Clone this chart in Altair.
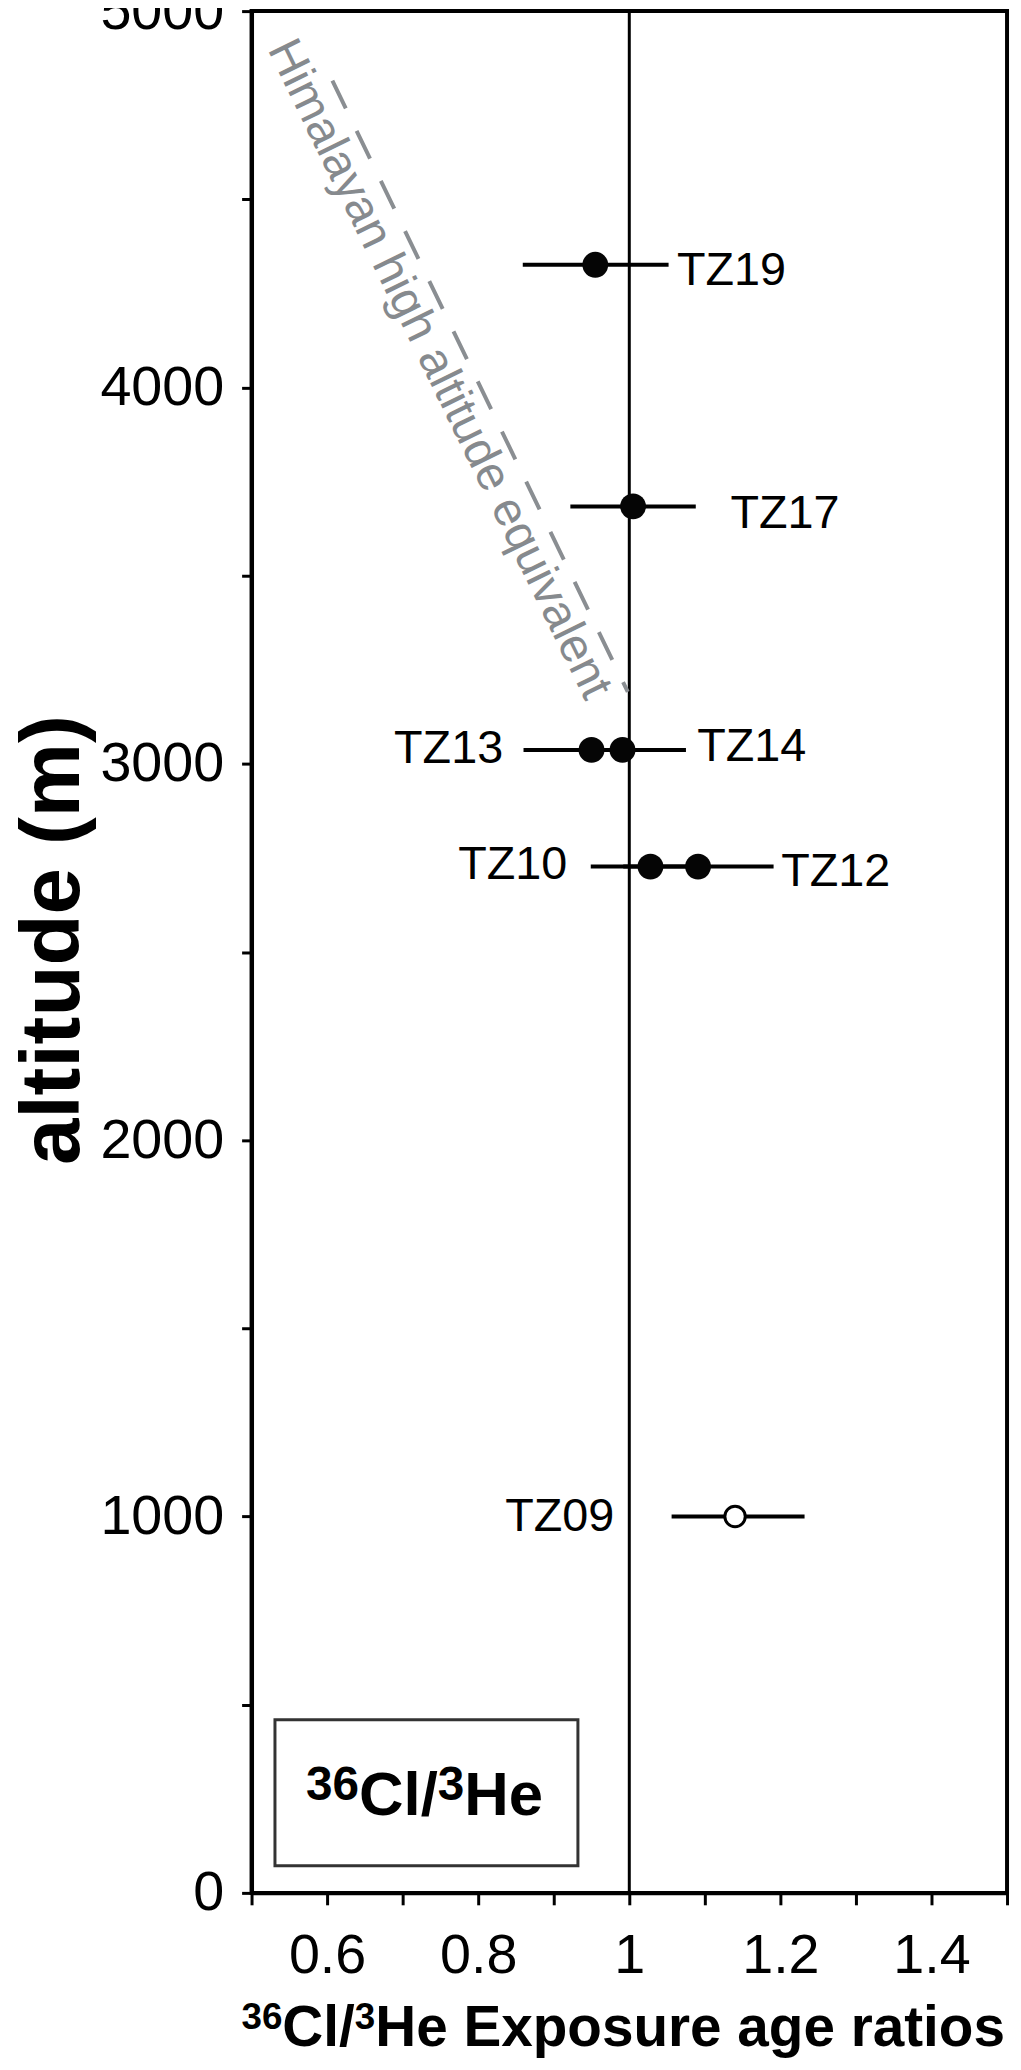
import altair as alt
import pandas as pd

# ---- data ----
samples = ["TZ19", "TZ17", "TZ13", "TZ14", "TZ10", "TZ12", "TZ09"]
ratio = [0.955, 1.005, 0.950, 0.991, 1.028, 1.091, 1.140]
ratio_lo = [0.859, 0.922, 0.860, 0.905, 0.949, 0.992, 1.056]
ratio_hi = [1.052, 1.088, 1.038, 1.075, 1.107, 1.191, 1.232]
altitude = [4326, 3684, 3037, 3037, 2727, 2727, 1000]
filled = [True, True, True, True, True, True, False]

label_side = ["right", "right", "left", "right", "left", "right", "left"]
label_x = [1.063, 1.134, 0.833, 1.090, 0.918, 1.201, 0.980]
label_alt = [4308, 3664, 3040, 3044, 2730, 2712, 998]

him_x = [0.607, 0.998]
him_alt = [4815, 3191]
him_text = ["Himalayan high altitude equivalent"]
him_text_x = [0.748]
him_text_alt = [4048]

box_x = [0.531, 0.932]
box_alt = [72, 460]
box_label_parts = ["36", "Cl/", "3", "He"]
box_label_sup = [True, False, True, False]
box_label_x = [0.729]
box_label_alt = [206]

x_title_parts = ["36", "Cl/", "3", "He Exposure age ratios"]
x_title_sup = [True, False, True, False]
x_title_center = [0.992]

ref_ratio = [1.0]

x_ticks = [0.5, 0.6, 0.7, 0.8, 0.9, 1.0, 1.1, 1.2, 1.3, 1.4, 1.5]
y_ticks = [0, 500, 1000, 1500, 2000, 2500, 3000, 3500, 4000, 4500, 5000]

FONT = "Liberation Sans"
PLOT_W, PLOT_H = 760, 1893

# Arial/Liberation Sans Bold advance widths (em) used to lay out rich-text pieces
BOLD_W = {"0": .556, "1": .556, "2": .556, "3": .556, "4": .556, "5": .556,
          "6": .556, "7": .556, "8": .556, "9": .556, "C": .722, "l": .278,
          "/": .278, "H": .722, "e": .556, " ": .278, "E": .667, "x": .556,
          "p": .611, "o": .611, "s": .556, "u": .611, "r": .389, "a": .556,
          "g": .611, "t": .333, "i": .278}


def text_width(s, size):
    return sum(BOLD_W.get(c, .556) for c in s) * size


pts = pd.DataFrame(dict(sample=samples, r=ratio, lo=ratio_lo, hi=ratio_hi,
                        alt=altitude, filled=filled))
labs = pd.DataFrame(dict(sample=samples, lx=label_x, lalt=label_alt, side=label_side))
him = pd.DataFrame(dict(r=him_x, alt=him_alt))
himt = pd.DataFrame(dict(t=him_text, r=him_text_x, alt=him_text_alt))
box = pd.DataFrame(dict(r=[box_x[0]], r2=[box_x[1]], alt=[box_alt[0]], alt2=[box_alt[1]]))
refl = pd.DataFrame(dict(r=ref_ratio))

xscale = alt.Scale(domain=[0.5, 1.5], nice=False, zero=False)
yscale = alt.Scale(domain=[0, 5000], nice=False, zero=False)

xaxis = alt.Axis(
    values=x_ticks,
    labelExpr="(round(datum.value*10) % 2 == 0 && datum.value > 0.55 && datum.value < 1.45) ? format(datum.value, '~g') : ''",
    title="",
    labelFont=FONT, labelFontSize=56, labelColor="black", labelPadding=24,
    labelFlush=False, labelOverlap=False, labelBound=False,
    tickSize=12, tickWidth=3, tickColor="black",
    domainWidth=4, domainColor="black", grid=False,
)
yaxis = alt.Axis(
    values=y_ticks,
    labelExpr="datum.value % 1000 == 0 ? format(datum.value, 'd') : ''",
    title="altitude (m)",
    titleFont=FONT, titleFontSize=84, titleFontWeight="bold", titleColor="black",
    titlePadding=3, titleY=934,
    labelFont=FONT, labelFontSize=56, labelColor="black", labelPadding=18,
    labelFlush=False, labelOverlap=False, labelBound=False,
    tickSize=10, tickWidth=3, tickColor="black",
    domainWidth=4, domainColor="black", grid=False,
)


def X(f):
    return alt.X(f, type="quantitative", scale=xscale, axis=xaxis)


def Y(f):
    return alt.Y(f, type="quantitative", scale=yscale, axis=yaxis)


def rich_text(parts, sups, main_size, sup_size, sup_dy, anchor_x, y_enc):
    """Compose a bold text with superscripts from several text marks."""
    sizes = [sup_size if s else main_size for s in sups]
    widths = [text_width(p, sz) for p, sz in zip(parts, sizes)]
    start = -sum(widths) / 2
    layers = []
    for p, s, sz, w in zip(parts, sups, sizes, widths):
        df = pd.DataFrame(dict(t=[p], r=anchor_x))
        layers.append(
            alt.Chart(df).mark_text(
                color="black", font=FONT, fontSize=sz, fontWeight="bold",
                align="left", baseline="alphabetic", dx=start,
                dy=sup_dy if s else 0,
            ).encode(x=X("r"), y=y_enc, text="t:N")
        )
        start += w
    return layers


vline = alt.Chart(refl).mark_rule(color="black", strokeWidth=3).encode(x=X("r"))

ebars = alt.Chart(pts).mark_rule(color="black", strokeWidth=4).encode(
    x=X("lo"), x2="hi", y=Y("alt"))

hline = alt.Chart(him).mark_line(color="#8a8e92", strokeWidth=4, strokeDash=[31, 25]).encode(
    x=X("r"), y=Y("alt"))

htext = alt.Chart(himt).mark_text(
    color="#868a8e", font=FONT, fontSize=48, angle=64, align="center", baseline="middle"
).encode(x=X("r"), y=Y("alt"), text="t:N")

boxr = alt.Chart(box).mark_rect(fill="white", stroke="#333333", strokeWidth=3).encode(
    x=X("r"), x2="r2", y=Y("alt"), y2="alt2")

box_text_layers = rich_text(
    box_label_parts, box_label_sup, 62, 48, -15, box_label_x,
    alt.datum(box_label_alt[0], type="quantitative", scale=yscale, axis=yaxis),
)

xtitle_layers = rich_text(
    x_title_parts, x_title_sup, 57, 37, -17, x_title_center,
    alt.value(PLOT_H + 154),
)

pfill = alt.Chart(pts).transform_filter("datum.filled").mark_point(
    shape="circle", filled=True, size=676, color="#050505", opacity=1
).encode(x=X("r"), y=Y("alt"))

popen = alt.Chart(pts).transform_filter("!datum.filled").mark_point(
    shape="circle", filled=False, size=420, fill="white", fillOpacity=1,
    stroke="black", strokeWidth=3, opacity=1
).encode(x=X("r"), y=Y("alt"))

lab_r = alt.Chart(labs).transform_filter("datum.side == 'right'").mark_text(
    color="black", font=FONT, fontSize=47, align="left", baseline="middle"
).encode(x=X("lx"), y=Y("lalt"), text="sample:N")

lab_l = alt.Chart(labs).transform_filter("datum.side == 'left'").mark_text(
    color="black", font=FONT, fontSize=47, align="right", baseline="middle"
).encode(x=X("lx"), y=Y("lalt"), text="sample:N")

chart = alt.layer(
    vline, hline, htext, boxr, *box_text_layers, ebars, pfill, popen, lab_r, lab_l,
    *xtitle_layers
).properties(
    width=PLOT_W, height=PLOT_H,
    padding={"left": 245, "top": -3, "right": 6, "bottom": 162},
    autosize=alt.AutoSizeParams(type="none"),
    background="white",
).configure_view(stroke="black", strokeWidth=4)

chart.save("out.html", embed_options={"renderer": "svg", "actions": False})
